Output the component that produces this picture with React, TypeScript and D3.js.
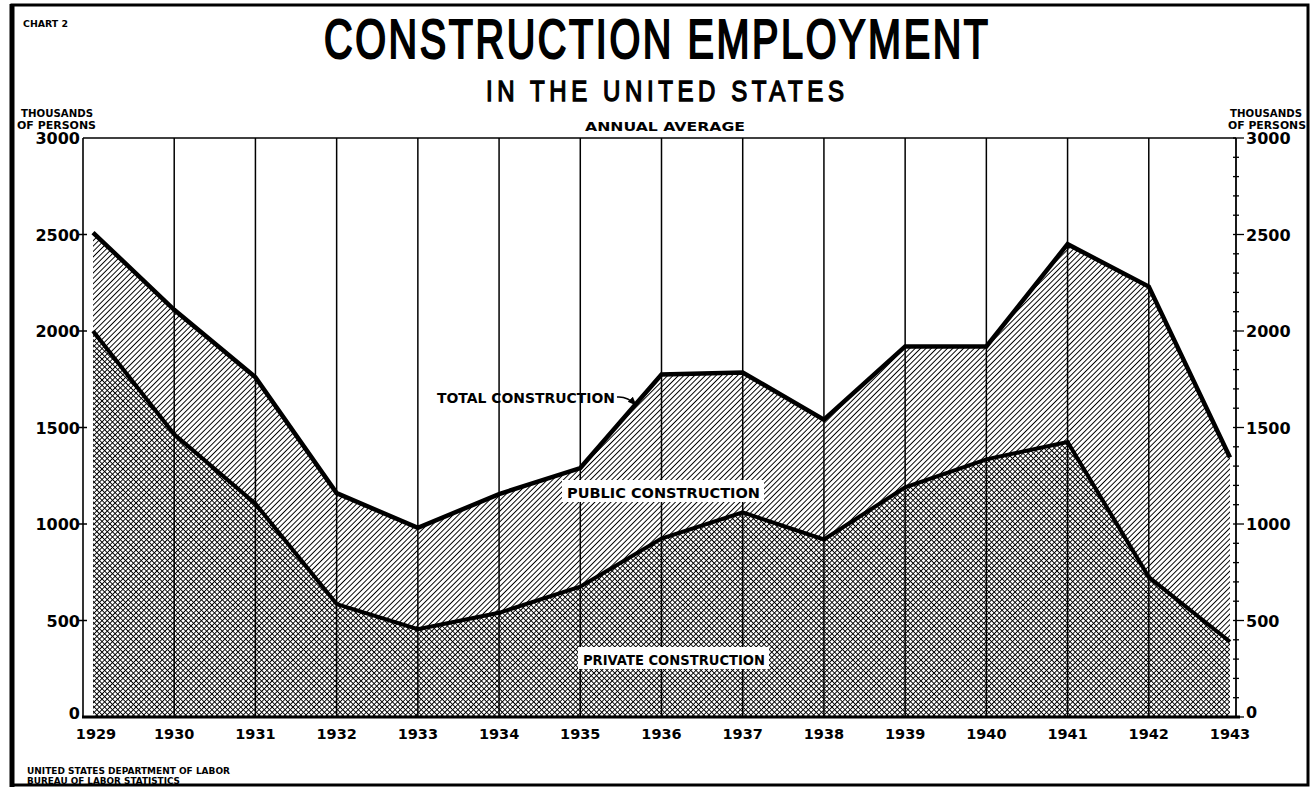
import React from 'react'
import * as d3 from 'd3'

// annual average, thousands of persons
const years = [1929, 1930, 1931, 1932, 1933, 1934, 1935, 1936, 1937, 1938, 1939, 1940, 1941, 1942, 1943]
const totalConstruction = [2510, 2110, 1760, 1160, 980, 1155, 1290, 1775, 1785, 1540, 1920, 1920, 2450, 2230, 1345]
const privateConstruction = [2000, 1465, 1105, 585, 455, 540, 675, 925, 1060, 920, 1190, 1335, 1425, 725, 390]
const valueTicks = [0, 500, 1000, 1500, 2000, 2500, 3000]

const W = 1314
const H = 791
const LEFT = 83
const RIGHT = 1236
const TOP = 138
const BOTTOM = 717

const FONT = 'DejaVu Sans, Liberation Sans, sans-serif'
const TITLE_FONT = 'Liberation Sans, sans-serif'

export default function App() {
    const x = d3.scaleLinear().domain([1929, 1943]).range([93, 1230])
    const y = d3.scaleLinear().domain([0, 3000]).range([BOTTOM, TOP])

    const rows = years.map((yr, i) => ({ yr, total: totalConstruction[i], priv: privateConstruction[i] }))

    const privateArea = d3.area<any>()
        .x(d => x(d.yr))
        .y0(y(0))
        .y1(d => y(d.priv))
    const publicArea = d3.area<any>()
        .x(d => x(d.yr))
        .y0(d => y(d.priv))
        .y1(d => y(d.total))
    const totalLine = d3.line<any>().x(d => x(d.yr)).y(d => y(d.total))
    const privateLine = d3.line<any>().x(d => x(d.yr)).y(d => y(d.priv))

    const minorTicks = d3.range(0, 3001, 100)

    // title glyphs are narrow with wide letter spacing
    const squeeze = 0.72

    return (
        <svg width={W} height={H} style={{ position: 'absolute', left: 0, top: 0, background: '#fff' }}>
            <defs>
                <pattern id="hatch" patternUnits="userSpaceOnUse" width="3.8" height="3.8" patternTransform="rotate(45)">
                    <rect x="0" y="0" width="3.8" height="3.8" fill="#fff" />
                    <rect x="0" y="0" width="1.3" height="3.8" fill="#000" shapeRendering="crispEdges" />
                </pattern>
                <pattern id="cross" patternUnits="userSpaceOnUse" width="3.7" height="3.7" patternTransform="rotate(45)">
                    <rect x="0" y="0" width="3.7" height="3.7" fill="#fff" />
                    <rect x="0" y="0" width="1.35" height="3.7" fill="#000" shapeRendering="crispEdges" />
                    <rect x="0" y="0" width="3.7" height="1.35" fill="#000" shapeRendering="crispEdges" />
                </pattern>
                <marker id="arrow" viewBox="0 0 10 10" refX="9" refY="5" markerWidth="6" markerHeight="6" orient="auto">
                    <path d="M0,1 L10,5 L0,9 z" fill="#000" />
                </marker>
            </defs>

            {/* page border */}
            <rect x={12} y={5} width={1296} height={780} fill="none" stroke="#000" strokeWidth={3} />
            <line x1={12} x2={12} y1={4} y2={787} stroke="#000" strokeWidth={5} />

            {/* titles */}
            <text x={23} y={27} fontFamily={FONT} fontWeight="bold" fontSize={9} textLength={45} lengthAdjust="spacingAndGlyphs">CHART 2</text>
            <g transform={`translate(656,58) scale(${squeeze},1)`}>
                <text x={0} y={0} textAnchor="middle" fontFamily={TITLE_FONT} fontSize={55} stroke="#000" strokeWidth={2.2} textLength={664 / squeeze} lengthAdjust="spacing">CONSTRUCTION  EMPLOYMENT</text>
            </g>
            <g transform={`translate(665,101) scale(0.8,1)`}>
                <text x={0} y={0} textAnchor="middle" fontFamily={TITLE_FONT} fontSize={30} stroke="#000" strokeWidth={1.4} textLength={358 / 0.8} lengthAdjust="spacing">IN  THE  UNITED  STATES</text>
            </g>
            <text x={665} y={131} textAnchor="middle" fontFamily={FONT} fontWeight="bold" fontSize={12} textLength={160} lengthAdjust="spacingAndGlyphs">ANNUAL AVERAGE</text>

            {/* axis units */}
            <text x={21} y={117} fontFamily={FONT} fontWeight="bold" fontSize={10.5} textLength={72} lengthAdjust="spacingAndGlyphs">THOUSANDS</text>
            <text x={17} y={129} fontFamily={FONT} fontWeight="bold" fontSize={10.5} textLength={79} lengthAdjust="spacingAndGlyphs">OF PERSONS</text>
            <text x={1230} y={117} fontFamily={FONT} fontWeight="bold" fontSize={10.5} textLength={72} lengthAdjust="spacingAndGlyphs">THOUSANDS</text>
            <text x={1228} y={129} fontFamily={FONT} fontWeight="bold" fontSize={10.5} textLength={78} lengthAdjust="spacingAndGlyphs">OF PERSONS</text>

            {/* areas */}
            <path d={publicArea(rows) || ''} fill="url(#hatch)" />
            <path d={privateArea(rows) || ''} fill="url(#cross)" />

            {/* year grid lines */}
            {years.slice(1, -1).map(yr => (
                <line key={yr} x1={x(yr)} x2={x(yr)} y1={TOP} y2={BOTTOM} stroke="#000" strokeWidth={1.5} />
            ))}

            {/* frame */}
            <line x1={LEFT} x2={RIGHT} y1={TOP} y2={TOP} stroke="#000" strokeWidth={1.6} />
            <line x1={LEFT} x2={LEFT} y1={TOP} y2={BOTTOM} stroke="#000" strokeWidth={1.6} />
            <line x1={RIGHT} x2={RIGHT} y1={TOP} y2={BOTTOM} stroke="#000" strokeWidth={1.8} />
            <line x1={LEFT - 1} x2={RIGHT + 4} y1={BOTTOM} y2={BOTTOM} stroke="#000" strokeWidth={3} />

            {/* series lines */}
            <path d={totalLine(rows) || ''} fill="none" stroke="#000" strokeWidth={4.5} strokeLinejoin="miter" />
            <path d={privateLine(rows) || ''} fill="none" stroke="#000" strokeWidth={4} strokeLinejoin="miter" />

            {/* left axis */}
            {valueTicks.map(v => (
                <g key={'l' + v}>
                    {v > 0 && v < 3000 && <line x1={LEFT - 4} x2={LEFT + 4} y1={y(v)} y2={y(v)} stroke="#000" strokeWidth={1.5} />}
                    <text x={80} y={v === 0 ? 719 : y(v) + 6} textAnchor="end" fontFamily={FONT} fontWeight="bold" fontSize={16}>{v}</text>
                </g>
            ))}

            {/* right axis */}
            {minorTicks.map(v => (
                <line key={'m' + v} x1={RIGHT - 3} x2={RIGHT + (v % 500 === 0 ? 8 : 3)} y1={y(v)} y2={y(v)} stroke="#000" strokeWidth={1.3} />
            ))}
            {valueTicks.map(v => (
                <text key={'r' + v} x={1246} y={v === 0 ? 718 : y(v) + 6} fontFamily={FONT} fontWeight="bold" fontSize={16}>{v}</text>
            ))}

            {/* year labels */}
            {years.map(yr => (
                <text key={'y' + yr} x={x(yr) + (yr === 1929 ? 3 : 0)} y={739} textAnchor="middle" fontFamily={FONT} fontWeight="bold" fontSize={14.5}>{yr}</text>
            ))}

            {/* series labels */}
            <text x={437} y={403} fontFamily={FONT} fontWeight="bold" fontSize={14} textLength={178} lengthAdjust="spacingAndGlyphs">TOTAL CONSTRUCTION</text>
            <path d="M617,397 Q627,396 636,405" fill="none" stroke="#000" strokeWidth={1.5} markerEnd="url(#arrow)" />

            <rect x={562} y={480} width={202} height={22} fill="#fff" />
            <text x={567} y={498} fontFamily={FONT} fontWeight="bold" fontSize={14.5} textLength={193} lengthAdjust="spacingAndGlyphs">PUBLIC CONSTRUCTION</text>

            <rect x={578} y={647} width={191} height={22} fill="#fff" />
            <text x={583} y={665} fontFamily={FONT} fontWeight="bold" fontSize={14.5} textLength={182} lengthAdjust="spacingAndGlyphs">PRIVATE CONSTRUCTION</text>

            {/* source */}
            <text x={27} y={774} fontFamily={FONT} fontWeight="bold" fontSize={8.5} textLength={203} lengthAdjust="spacingAndGlyphs">UNITED STATES DEPARTMENT OF LABOR</text>
            <text x={27} y={784} fontFamily={FONT} fontWeight="bold" fontSize={8.5} textLength={153} lengthAdjust="spacingAndGlyphs">BUREAU OF LABOR STATISTICS</text>
        </svg>
    )
}
